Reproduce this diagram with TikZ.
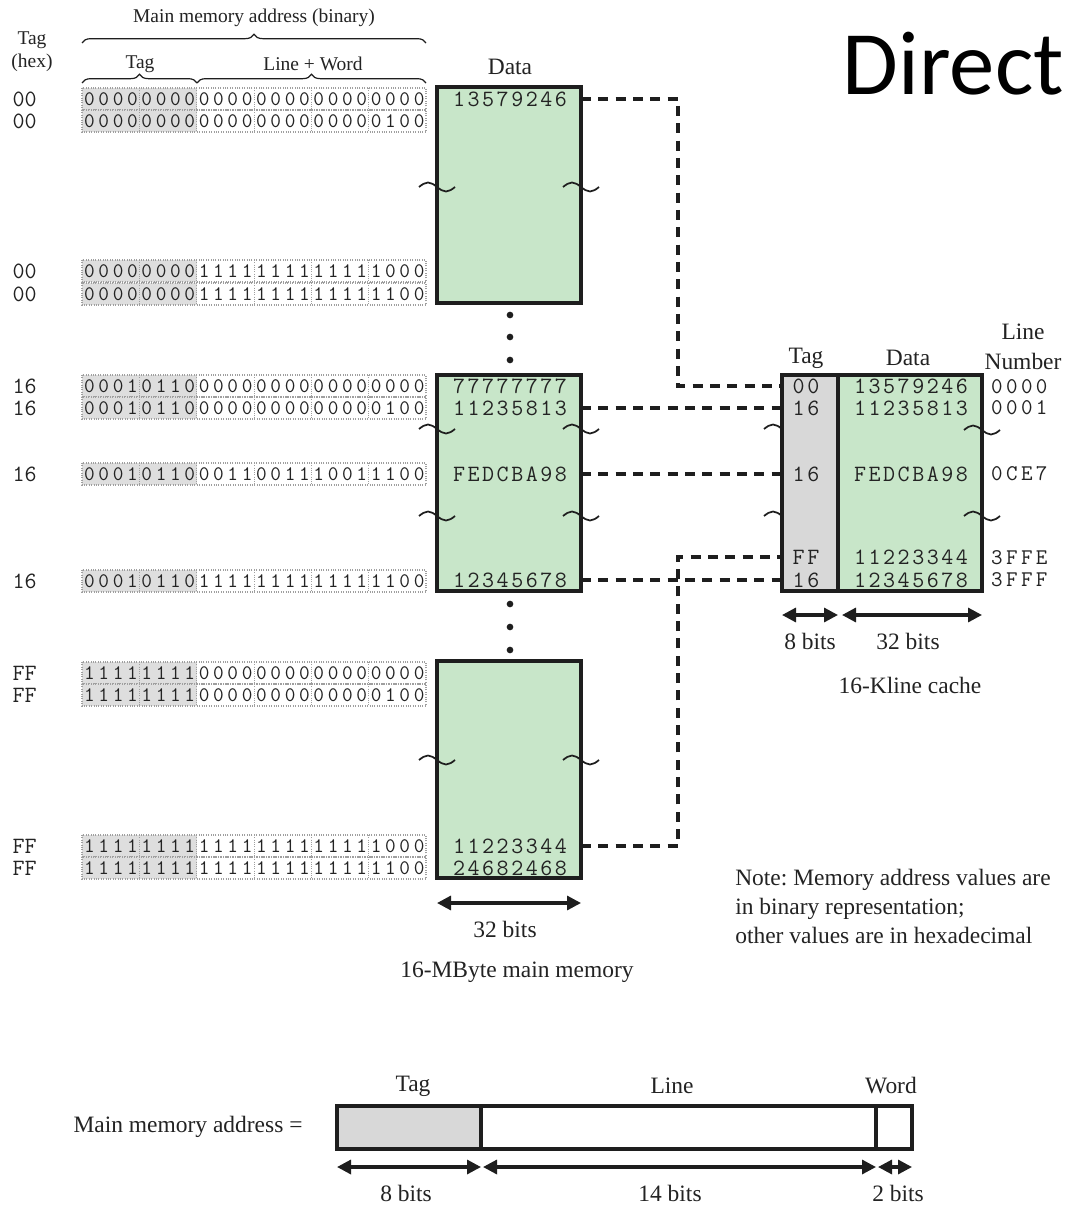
\documentclass[tikz,border=0pt]{standalone}
\usepackage{fontspec}
\setmainfont{Liberation Serif}
\newfontfamily\titlefont{Carlito}
\usetikzlibrary{arrows.meta,decorations.pathreplacing,calc}
\definecolor{memgreen}{RGB}{200,230,201}
\definecolor{taggray}{RGB}{216,216,216}
\definecolor{bitgray}{RGB}{222,222,222}
\definecolor{ink}{RGB}{30,30,30}
\definecolor{txt}{RGB}{35,35,35}
\makeatletter
\newcommand\spc[2]{\def\spc@w{#1}\spc@loop#2\relax}
\def\spc@loop#1{\ifx\relax#1\else\makebox[\spc@w]{#1}\expandafter\spc@loop\fi}
\makeatother
\newcommand\bitf{\ttfamily\fontsize{15.5}{15.5}\selectfont}
\newcommand\hexf{\ttfamily\fontsize{17.5}{17.5}\selectfont}
\newcommand\lnf{\ttfamily\fontsize{16.8}{16.8}\selectfont}
\newcommand\lblf{\fontsize{17.6}{21.8}\selectfont\frenchspacing}
\newcommand\slblf{\fontsize{14.6}{17}\selectfont}
\tikzset{
  memblk/.style={draw=ink, line width=2.3pt, fill=memgreen, inner sep=0pt, outer sep=0pt, anchor=north west},
  tagblk/.style={draw=ink, line width=2.3pt, fill=taggray, inner sep=0pt, outer sep=0pt, anchor=north west},
  plainblk/.style={draw=ink, line width=2.3pt, fill=white, inner sep=0pt, outer sep=0pt, anchor=north west},
  dotbox/.style={draw=gray!75, densely dotted, line width=0.8pt},
  dotsep/.style={draw=gray!75, densely dotted, line width=0.7pt},
  bitnode/.style={anchor=west, inner sep=0pt, font=\bitf, text=txt},
  hexnode/.style={inner sep=0pt, font=\hexf, text=txt},
  lnnode/.style={inner sep=0pt, font=\lnf, text=txt, anchor=west},
  lbl/.style={inner sep=0pt, font=\lblf, text=txt},
  slbl/.style={inner sep=0pt, font=\slblf, text=txt},
  conn/.style={draw=ink, line width=2.8pt, dash pattern=on 7.5pt off 5.5pt},
  dim/.style={draw=ink, line width=2.4pt, {Triangle[length=10.5pt,width=10.5pt]}-{Triangle[length=10.5pt,width=10.5pt]}},
  brc/.style={draw=ink, line width=0.9pt, decorate, decoration={brace, amplitude=6.5pt}},
  tld/.style={draw=ink, line width=1.3pt},
  dotn/.style={circle, fill=ink, inner sep=0pt, minimum size=5pt},
}
\newcommand\brow[3]{%
  \fill[bitgray] (82,#2-11) rectangle (197,#2+11);
  \draw[dotbox] (82,#2-11) rectangle (426,#2+11);
  \foreach \k in {4,8,12,16,20} \draw[dotsep] ({82+\k*14.333},#2-11) -- ({82+\k*14.333},#2+11);
  \node[bitnode] (#1) at (82,#2) {\spc{10.75pt}{#3}};
}
\newcommand\tildeat[2]{\draw[tld] (#1-18,#2) sin (#1-9,#2-4.5) cos (#1,#2) sin (#1+9,#2+4.5) cos (#1+18,#2);}
\begin{document}
\begin{tikzpicture}[x=0.75pt,y=-0.75pt]
\useasboundingbox (0,0) rectangle (1066,1205);
\fill[white] (0,0) rectangle (1066,1205);

% title
\node[anchor=base east, inner sep=0pt, font=\titlefont\fontsize{68}{70}\selectfont] (title) at (1064,95) {Direct};

% headers
\node[slbl] (hdrmain) at (254,18) {Main memory address (binary)};
\draw[brc] (82,43) -- (426,43);
\node[slbl] (hdrtag) at (140,64) {Tag};
\node[slbl] (hdrlw) at (313,64) {Line + Word};
\draw[brc] (82,83) -- (197,83);
\draw[brc] (197,83) -- (426,83);
\node[slbl] (hdrhexa) at (32,40) {Tag};
\node[slbl] (hdrhexb) at (32,63) {(hex)};
\node[lbl] (hdrdata) at (510,67) {Data};

% binary rows
\brow{r1}{99}{000000000000000000000000}
\brow{r2}{121}{000000000000000000000100}
\brow{r3}{271}{000000001111111111111000}
\brow{r4}{294}{000000001111111111111100}
\brow{r5}{386}{000101100000000000000000}
\brow{r6}{408}{000101100000000000000100}
\brow{r7}{474}{000101100011001110011100}
\brow{r8}{581}{000101101111111111111100}
\brow{r9}{673}{111111110000000000000000}
\brow{r10}{695}{111111110000000000000100}
\brow{r11}{846}{111111111111111111111000}
\brow{r12}{868}{111111111111111111111100}

% left hex tags
\foreach \nm/\yy/\tg in {h1/99/00,h2/121/00,h3/271/00,h4/294/00,h5/386/16,h6/408/16,h7/474/16,h8/581/16,h9/673/FF,h10/695/FF,h11/846/FF,h12/868/FF}
  \node[hexnode, anchor=west] (\nm) at (18,\yy) {\spc{9.6pt}{\tg}};

% memory blocks
\node[memblk, minimum width=108pt, minimum height=162pt] (m1) at (437,87) {};
\node[memblk, minimum width=108pt, minimum height=162pt] (m2) at (437,375) {};
\node[memblk, minimum width=108pt, minimum height=162.75pt] (m3) at (437,661) {};

\tildeat{437}{187}\tildeat{581}{187}
\tildeat{437}{429}\tildeat{581}{429}
\tildeat{437}{516}\tildeat{581}{516}
\tildeat{437}{760}\tildeat{581}{760}

% data in memory
\node[hexnode] (d1) at (510,99) {\spc{10.9pt}{13579246}};
\node[hexnode] (d2) at (510,386) {\spc{10.9pt}{77777777}};
\node[hexnode] (d3) at (510,408) {\spc{10.9pt}{11235813}};
\node[hexnode] (d4) at (510,474) {\spc{10.9pt}{FEDCBA98}};
\node[hexnode] (d5) at (510,580) {\spc{10.9pt}{12345678}};
\node[hexnode] (d6) at (510,846) {\spc{10.9pt}{11223344}};
\node[hexnode] (d7) at (510,868) {\spc{10.9pt}{24682468}};

% continuation dots
\node[dotn] (v1) at (510,315) {};
\node[dotn] (v2) at (510,337) {};
\node[dotn] (v3) at (510,360) {};
\node[dotn] (v4) at (510,604) {};
\node[dotn] (v5) at (510,627) {};
\node[dotn] (v6) at (510,650) {};

% cache
\tildeat{782}{429}\tildeat{782}{516}
\node[tagblk, minimum width=42pt, minimum height=162pt] (ct) at (782,375) {};
\node[memblk, minimum width=108pt, minimum height=162pt] (cd) at (838,375) {};
\tildeat{982}{430}\tildeat{982}{516}

\node[lbl] (chtag) at (806,358) {Tag};
\node[lbl] (chdata) at (908,358) {Data};
\node[lbl] (chline) at (1023,332) {Line};
\node[lbl] (chnum) at (1023,361) {Number};

\node[hexnode] (c1) at (806,386) {\spc{10.9pt}{00}};
\node[hexnode] (c2) at (806,408) {\spc{10.9pt}{16}};
\node[hexnode] (c3) at (806,474) {\spc{10.9pt}{16}};
\node[hexnode] (c4) at (806,557) {\spc{10.9pt}{FF}};
\node[hexnode] (c5) at (806,580) {\spc{10.9pt}{16}};

\node[hexnode] (e1) at (911,386) {\spc{10.9pt}{13579246}};
\node[hexnode] (e2) at (911,408) {\spc{10.9pt}{11235813}};
\node[hexnode] (e3) at (911,474) {\spc{10.9pt}{FEDCBA98}};
\node[hexnode] (e4) at (911,557) {\spc{10.9pt}{11223344}};
\node[hexnode] (e5) at (911,580) {\spc{10.9pt}{12345678}};

\node[lnnode] (n1) at (989,387) {\spc{11.25pt}{0000}};
\node[lnnode] (n2) at (989,408) {\spc{11.25pt}{0001}};
\node[lnnode] (n3) at (989,474) {\spc{11.25pt}{0CE7}};
\node[lnnode] (n4) at (989,558) {\spc{11.25pt}{3FFE}};
\node[lnnode] (n5) at (989,580) {\spc{11.25pt}{3FFF}};

% dashed connectors
\coordinate (bus) at (678,0);
\draw[conn] (d1 -| m1.east) -- (d1 -| bus) -- (c1 -| bus) -- (c1 -| ct.west);
\draw[conn] (d3 -| m2.east) -- (c2 -| ct.west);
\draw[conn] (d4 -| m2.east) -- (c3 -| ct.west);
\draw[conn] (d5 -| m2.east) -- (c5 -| ct.west);
\draw[conn] (d6 -| m3.east) -- (d6 -| bus) -- (c4 -| bus) -- (c4 -| ct.west);

% width arrows
\coordinate (ma) at (0,903);
\draw[dim] (m3.west |- ma) -- (m3.east |- ma);
\node[lbl] (m32) at (505,929) {32 bits};
\node[lbl] (mcap) at (517,972) {16-MByte main memory};

\coordinate (ca) at (0,615);
\draw[dim] (ct.west |- ca) -- (ct.east |- ca);
\draw[dim] ([xshift=3pt]cd.west |- ca) -- (cd.east |- ca);
\node[lbl] (c8) at (810,641) {8 bits};
\node[lbl] (c32) at (908,641) {32 bits};
\node[lbl] (ccap) at (910,685) {16-Kline cache};

% note
\node[lbl, anchor=north west, align=left] (note) at (735,869) {Note: Memory address values are\\in binary representation;\\other values are in hexadecimal};

% address format
\node[lbl] (afl) at (188,1127) {Main memory address =};
\node[tagblk, minimum width=108pt, minimum height=32.25pt] (at) at (337,1106) {};
\node[plainblk, minimum width=296.25pt, minimum height=32.25pt] (al) at (481,1106) {};
\node[plainblk, minimum width=27pt, minimum height=32.25pt] (aw) at (876,1106) {};
\node[lbl] (atl) at (413,1086) {Tag};
\node[lbl] (all) at (672,1086) {Line};
\node[lbl] (awl) at (891,1086) {Word};
\coordinate (ba) at (0,1167);
\draw[dim] (at.west |- ba) -- (at.east |- ba);
\draw[dim] ([xshift=1.5pt]al.west |- ba) -- (al.east |- ba);
\draw[dim] ([xshift=1.5pt]aw.west |- ba) -- (aw.east |- ba);
\node[lbl] (ab8) at (406,1193) {8 bits};
\node[lbl] (ab14) at (670,1193) {14 bits};
\node[lbl] (ab2) at (898,1193) {2 bits};
\end{tikzpicture}
\end{document}
